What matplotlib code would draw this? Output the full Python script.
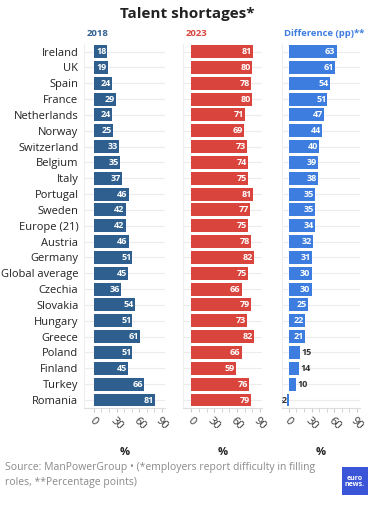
import matplotlib.pyplot as plt
import numpy as np

plt.rcParams['font.family'] = ['Open Sans', 'DejaVu Sans']

countries = ['Ireland', 'UK', 'Spain', 'France', 'Netherlands', 'Norway', 'Switzerland',
             'Belgium', 'Italy', 'Portugal', 'Sweden', 'Europe (21)', 'Austria', 'Germany',
             'Global average', 'Czechia', 'Slovakia', 'Hungary', 'Greece', 'Poland',
             'Finland', 'Turkey', 'Romania']
y2018 = [18, 19, 24, 29, 24, 25, 33, 35, 37, 46, 42, 42, 46, 51, 45, 36, 54, 51, 61, 51, 45, 66, 81]
y2023 = [81, 80, 78, 80, 71, 69, 73, 74, 75, 81, 77, 75, 78, 82, 75, 66, 79, 73, 82, 66, 59, 76, 79]
diff = [63, 61, 54, 51, 47, 44, 40, 39, 38, 35, 35, 34, 32, 31, 30, 30, 25, 22, 21, 15, 14, 10, -2]
x_ticks = [0, 30, 60, 90]

panels = [
    ('2018', y2018, '#2f5f8e', [0.224, 0.197, 0.216, 0.717], (-13, 94)),
    ('2023', y2023, '#d9443c', [0.488, 0.197, 0.211, 0.717], (-11, 93)),
    ('Difference (pp)**', diff, '#3d7de0', [0.752, 0.197, 0.208, 0.717], (-9, 94)),
]

fig = plt.figure(figsize=(3.75, 5.08), dpi=100)
fig.text(0.5, 0.972, 'Talent shortages*', ha='center', va='center',
         fontsize=11, fontweight='bold', color='#222222')

ypos = np.arange(len(countries))
for i, (name, vals, col, rect, xl) in enumerate(panels):
    ax = fig.add_axes(rect)
    for y in ypos:
        ax.axhline(y, color='#ececec', lw=0.8, zorder=0)
    ax.barh(ypos, vals, height=0.82, color=col, zorder=2)
    ax.set_xlim(*xl)
    ax.set_ylim(len(countries) - 0.5, -0.5)
    ax.set_xticks(x_ticks)
    ax.set_xticks(np.arange(0, 91, 10), minor=True)
    ax.set_xticklabels([str(t) for t in x_ticks], rotation=-45, ha='center',
                       fontsize=8, color='#333333')
    ax.tick_params(axis='x', which='both', length=3, color='#cccccc', pad=2)
    ax.set_xlabel('%', fontsize=8, fontweight='bold', color='#222222', labelpad=11)
    for s in ['top', 'right']:
        ax.spines[s].set_visible(False)
    ax.spines['left'].set_color('#eeeeee')
    ax.spines['bottom'].set_color('#dddddd')
    if i == 0:
        ax.set_yticks(ypos)
        ax.set_yticklabels(countries, fontsize=8, color='#222222')
        ax.tick_params(axis='y', length=0, pad=4)
    else:
        ax.set_yticks([])
    ax.text(0.03, 1.015, name, transform=ax.transAxes, ha='left', va='bottom',
            fontsize=6.8, fontweight='bold', color=col)
    for y, v in zip(ypos, vals):
        if v > 16:
            ax.text(v - 1.5, y, str(v), ha='right', va='center', fontsize=6.5,
                    fontweight='bold', color='white', zorder=3)
        elif v >= 0:
            ax.text(v + 2, y, str(v), ha='left', va='center', fontsize=6.5,
                    fontweight='bold', color='#333333', zorder=3)
        else:
            ax.text(-1, y, str(v), ha='right', va='center', fontsize=6.5,
                    fontweight='bold', color='#333333', zorder=3, clip_on=True)

fig.text(0.013, 0.065, 'Source: ManPowerGroup \u2022 (*employers report difficulty in filling\nroles, **Percentage points)',
         ha='left', va='center', fontsize=7.5, color='#8a8a8a', linespacing=1.5)

logo = fig.add_axes([0.912, 0.026, 0.069, 0.054])
logo.set_facecolor('#3a55d8')
logo.set_xticks([])
logo.set_yticks([])
for s in logo.spines.values():
    s.set_visible(False)
logo.text(0.5, 0.5, 'euro\nnews.', ha='center', va='center', fontsize=5,
          color='white', linespacing=0.8, fontweight='bold')

fig.savefig('out.png', dpi=100)
